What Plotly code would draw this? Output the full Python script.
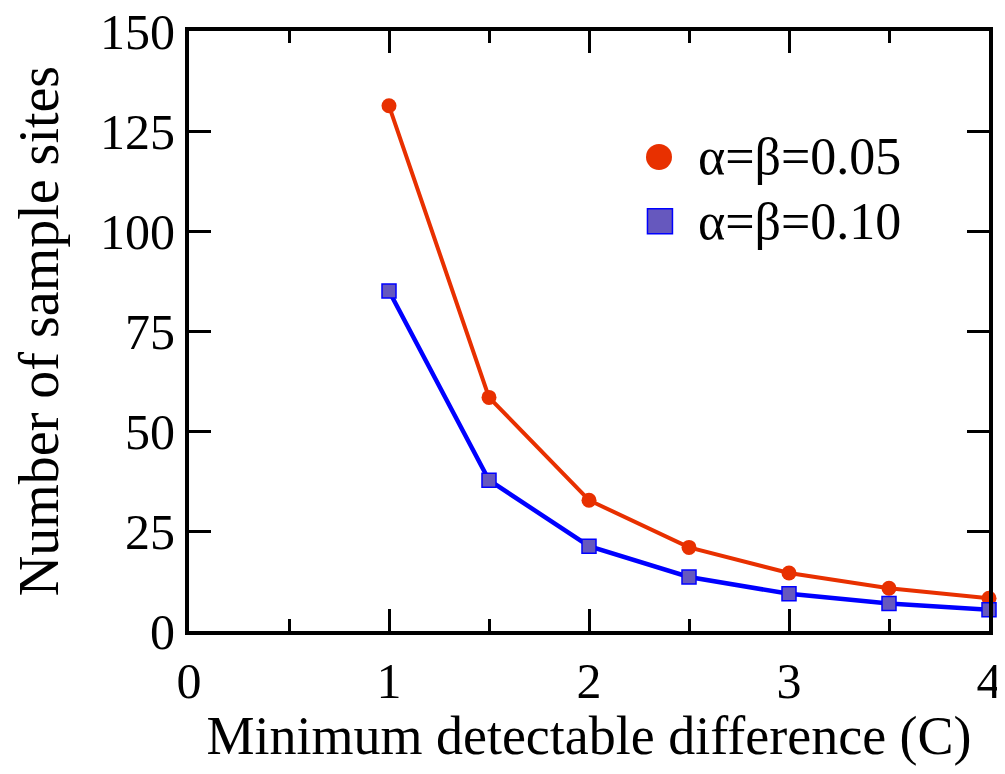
import plotly.graph_objects as go

# minimum detectable difference (C)
diff = [1, 1.5, 2, 2.5, 3, 3.5, 4]
# number of sample sites
sites_005 = [131.3, 58.4, 32.7, 20.9, 14.5, 10.7, 8.2]
sites_010 = [85.0, 37.7, 21.2, 13.5, 9.3, 6.9, 5.3]

label_005 = "α=β=0.05"
label_010 = "α=β=0.10"

RED = "rgb(232,48,0)"
BLUE = "rgb(0,0,255)"
PURPLE = "rgb(102,88,190)"
FONT = "Liberation Serif, Times New Roman, serif"

fig = go.Figure()
fig.add_trace(go.Scatter(x=diff, y=sites_005, name=label_005, mode="lines+markers",
                         line=dict(color=RED, width=4),
                         marker=dict(symbol="circle", size=15, color=RED),
                         cliponaxis=False))
fig.add_trace(go.Scatter(x=diff, y=sites_010, name=label_010, mode="lines+markers",
                         line=dict(color=BLUE, width=4.5),
                         marker=dict(symbol="square", size=14, color=PURPLE,
                                     line=dict(color=BLUE, width=1.5)),
                         cliponaxis=False))

# hand-made legend (bigger symbols than plotly's legend allows)
fig.add_shape(type="circle", xref="paper", yref="paper", xsizemode="pixel", ysizemode="pixel",
              xanchor=0.5875, yanchor=0.79, x0=-13, x1=13, y0=-13, y1=13,
              fillcolor=RED, line=dict(width=0))
fig.add_shape(type="rect", xref="paper", yref="paper", xsizemode="pixel", ysizemode="pixel",
              xanchor=0.5887, yanchor=0.683, x0=-12.5, x1=12.5, y0=-12.5, y1=12.5,
              fillcolor=PURPLE, line=dict(color=BLUE, width=1.5))
for txt, yy in [(label_005, 0.79), (label_010, 0.683)]:
    fig.add_annotation(text=txt, xref="paper", yref="paper", x=0.634, y=yy,
                       xanchor="left", yanchor="middle", showarrow=False,
                       font=dict(size=52, color="black", family=FONT))

# page body has an 8px margin, so the figure is a bit smaller than the window
fig.update_layout(
    width=989, height=758,
    showlegend=False,
    paper_bgcolor="white",
    plot_bgcolor="white",
    margin=dict(l=181, r=8, t=23, b=135, autoexpand=False),
    font=dict(family=FONT, color="black", size=48),
    xaxis=dict(
        range=[0, 4], dtick=1, tick0=0,
        ticks="inside", ticklen=22, tickwidth=3, tickcolor="black",
        minor=dict(dtick=0.5, ticks="inside", ticklen=12, tickwidth=3, tickcolor="black"),
        showline=True, linewidth=4, linecolor="black", mirror="allticks",
        showgrid=False, zeroline=False, automargin=False,
        tickfont=dict(size=50), ticklabeloverflow="allow",
        ticklabelstandoff=3,
        title=dict(text="Minimum detectable difference (C)", font=dict(size=54), standoff=20),
    ),
    yaxis=dict(
        range=[0, 150], dtick=25, tick0=0,
        ticks="inside", ticklen=22, tickwidth=3, tickcolor="black",
        showline=True, linewidth=4, linecolor="black", mirror="allticks",
        showgrid=False, zeroline=False, automargin=False,
        tickfont=dict(size=50), ticklabeloverflow="allow",
        ticklabelstandoff=0,
        title=dict(text="Number of sample sites", font=dict(size=56), standoff=45),
    ),
)

fig.write_html("out.html")
